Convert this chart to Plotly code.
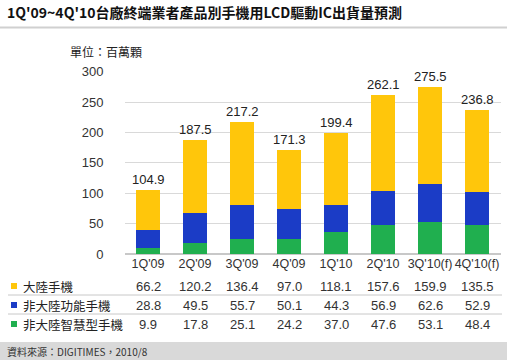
import plotly.graph_objects as go

categories = ["1Q'09", "2Q'09", "3Q'09", "4Q'09", "1Q'10", "2Q'10", "3Q'10(f)", "4Q'10(f)"]
series_names = ["大陸手機", "非大陸功能手機", "非大陸智慧型手機"]
china_phones = [66.2, 120.2, 136.4, 97.0, 118.1, 157.6, 159.9, 135.5]
non_china_feature = [28.8, 49.5, 55.7, 50.1, 44.3, 56.9, 62.6, 52.9]
non_china_smart = [9.9, 17.8, 25.1, 24.2, 37.0, 47.6, 53.1, 48.4]
totals = [104.9, 187.5, 217.2, 171.3, 199.4, 262.1, 275.5, 236.8]
y_ticks = [0, 50, 100, 150, 200, 250, 300]

title_text = "1Q'09~4Q'10台廠終端業者產品別手機用LCD驅動IC出貨量預測"
unit_text = "單位：百萬顆"
source_text = "資料來源：DIGITIMES，2010/8"

colors = {"yellow": "#FFC60B", "blue": "#1B3CC6", "green": "#20AF4F"}

W, H = 507, 360
def py(y):
    return (H - y) / H
def px(x):
    return x / W

CJK = "Noto Sans CJK TC"
NUM = "Liberation Sans, Arial"

fig = go.Figure()
stack = [
    (series_names[2], non_china_smart, colors["green"]),
    (series_names[1], non_china_feature, colors["blue"]),
    (series_names[0], china_phones, colors["yellow"]),
]
for name, vals, col in stack:
    fig.add_trace(go.Bar(x=categories, y=vals, name=name, marker=dict(color=col, line=dict(width=0)),
                         showlegend=False, hoverinfo="skip"))

annotations = []
for c, t in zip(categories, totals):
    annotations.append(dict(x=c, y=t, xref="x", yref="y", text=f"{t:.1f}", showarrow=False,
                            yanchor="bottom", yshift=1, font=dict(family=NUM, size=13, color="#222")))

rows = [
    (series_names[0], china_phones, colors["yellow"], 286),
    (series_names[1], non_china_feature, colors["blue"], 305),
    (series_names[2], non_china_smart, colors["green"], 324),
]
shapes = []
for name, vals, col, yy in rows:
    annotations.append(dict(x=px(21), y=py(yy), xref="paper", yref="paper", text=name, showarrow=False,
                            xanchor="left", yanchor="middle", font=dict(family=CJK, size=12.5, color="#222")))
    shapes.append(dict(type="rect", xref="paper", yref="paper", x0=px(11), x1=px(17), y0=py(yy + 3), y1=py(yy - 3),
                       fillcolor=col, line=dict(width=0)))
    for c, v in zip(categories, vals):
        annotations.append(dict(x=c, y=py(yy), xref="x", yref="paper", text=f"{v:.1f}", showarrow=False,
                                yanchor="middle", font=dict(family=NUM, size=13, color="#333")))

for yy in (295, 314):
    shapes.append(dict(type="line", xref="paper", yref="paper", x0=px(8), x1=px(502), y0=py(yy), y1=py(yy),
                       line=dict(color="#c8c8c8", width=1)))

shapes.append(dict(type="line", xref="paper", yref="paper", x0=0, x1=1, y0=py(27.5), y1=py(27.5),
                   line=dict(color="#d0d0d0", width=2)))
shapes.append(dict(type="rect", xref="paper", yref="paper", x0=0, x1=1, y0=0, y1=py(342),
                   fillcolor="#d9d9d9", line=dict(width=0), layer="below"))

annotations.append(dict(x=px(5), y=py(12), xref="paper", yref="paper", text=f"<b>{title_text}</b>", showarrow=False,
                        xanchor="left", yanchor="middle", font=dict(family=CJK, size=14, color="#111")))
annotations.append(dict(x=px(68), y=py(51), xref="paper", yref="paper", text=unit_text, showarrow=False,
                        xanchor="left", yanchor="middle", font=dict(family=CJK, size=12, color="#222")))
annotations.append(dict(x=px(5), y=py(351), xref="paper", yref="paper", text=source_text, showarrow=False,
                        xanchor="left", yanchor="middle", font=dict(family=CJK, size=10, color="#333")))

fig.update_layout(
    width=W, height=H, margin=dict(l=0, r=0, t=0, b=0),
    paper_bgcolor="white", plot_bgcolor="white",
    barmode="stack", bargap=0.49,
    annotations=annotations, shapes=shapes,
    xaxis=dict(domain=[px(124.5), px(500.5)], showgrid=False, showline=False, ticks="", tickangle=0,
               automargin=False, tickfont=dict(family=NUM, size=12.5, color="#333"), fixedrange=True),
    yaxis=dict(domain=[py(254), py(71.7)], range=[0, 300], tickvals=y_ticks, showgrid=True,
               gridcolor="#d9d9d9", gridwidth=1, zeroline=True, zerolinecolor="#c8c8c8", showline=False,
               automargin=False, ticks="", ticklabelstandoff=20,
               tickfont=dict(family=NUM, size=13, color="#333"), fixedrange=True),
)

fig.write_html("out.html", config={"displayModeBar": False},
               post_script="document.body.style.margin='0';document.body.style.overflow='hidden';")
